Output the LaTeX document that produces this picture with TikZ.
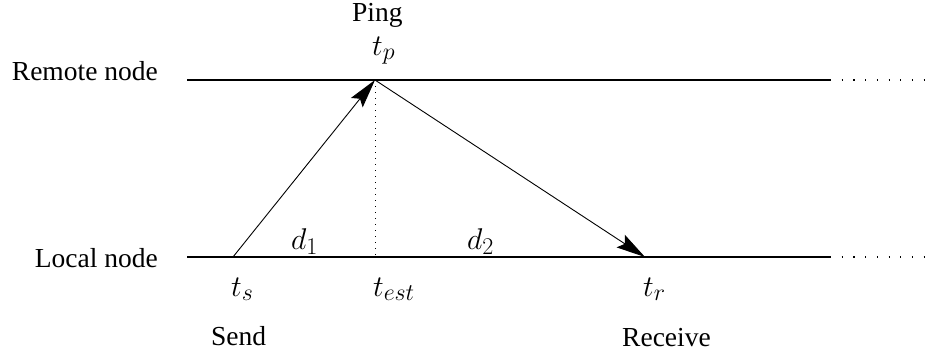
\RequirePackage{fix-cm}
\documentclass[tikz,border=0pt]{standalone}
\usepackage{fontspec}
\setmainfont{Liberation Serif}
\DeclareMathSizes{30}{30}{24}{18}
\usetikzlibrary{arrows.meta}
\begin{document}
\begin{tikzpicture}[x=1pt,y=-1pt,
  lbl/.style={font=\fontsize{27.5}{33}\selectfont, inner sep=0pt},
  mth/.style={font=\fontsize{30}{36}\selectfont, inner sep=0pt, anchor=base west},
  axis/.style={line width=1.2pt},
  ext/.style={line width=1.2pt, dash pattern=on 1.2pt off 10.5pt},
  msg/.style={line width=0.9pt, -{Stealth[length=29pt,width=15pt,inset=5pt]}},
  guide/.style={line width=0.9pt, dash pattern=on 1pt off 5pt}]
\useasboundingbox (0,0) rectangle (927,351);
% time lines
\coordinate (rl) at (187,80); \coordinate (rr) at (830,80); \coordinate (re) at (927,80);
\coordinate (ll) at (187,257); \coordinate (lr) at (830,257); \coordinate (le) at (927,257);
\coordinate (tp) at (375,80);
\coordinate (ts) at (233,257);
\coordinate (test) at (375,257);
\coordinate (tr) at (645,257);
\draw[axis] (rl) -- (rr);
\draw[ext] (rr) -- (re);
\draw[axis] (ll) -- (lr);
\draw[ext] (lr) -- (le);
\draw[guide] (tp) -- (test);
\draw[msg] (ts) -- (tp);
\draw[msg] (tp) -- (tr);
% labels
\node[lbl, anchor=base east] (remote) at (158,80) {Remote node};
\node[lbl, anchor=base east] (local) at (158,267) {Local node};
\node[lbl, anchor=base west] (ping) at (352,21) {Ping};
\node[lbl, anchor=base west] (send) at (211,345) {Send};
\node[lbl, anchor=base west] (recv) at (622,346) {Receive};
\node[mth] (ltp) at (372,55) {$t_p$};
\node[mth] (ld1) at (291,249) {$d_1$};
\node[mth] (ld2) at (467,249) {$d_2$};
\node[mth] (lts) at (231,296) {$t_s$};
\node[mth] (ltest) at (373,296) {$t_{est}$};
\node[mth] (ltr) at (643,296) {$t_r$};
\end{tikzpicture}
\end{document}
